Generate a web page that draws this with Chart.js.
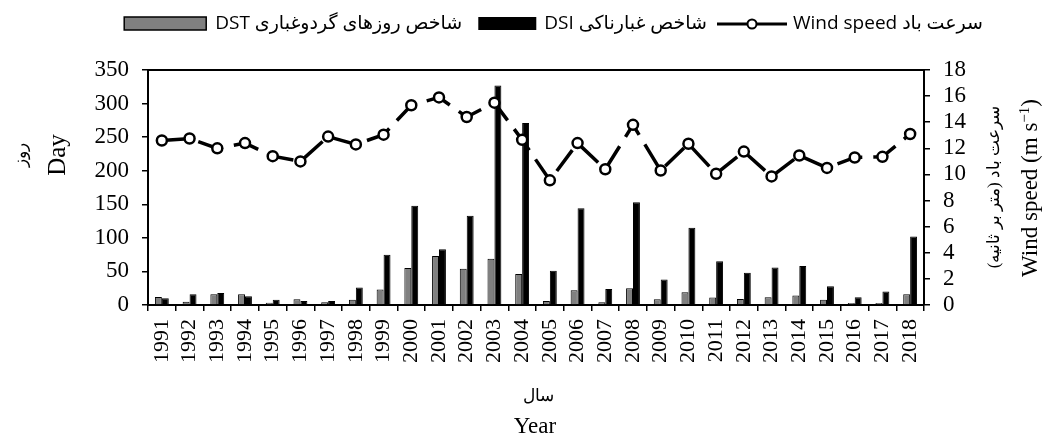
<!DOCTYPE html>
<html>
<head>
<meta charset="utf-8">
<script src="https://cdn.jsdelivr.net/npm/chart.js@4.4.1/dist/chart.umd.min.js"></script>
<style>
  body { margin: 0; background: #fff; }
  #wrap { width: 1043px; height: 439px; }
</style>
</head>
<body>
<div id="wrap"><canvas id="myChart" width="1043" height="439"></canvas></div>
<script>
// years on the x axis
const years = [1991, 1992, 1993, 1994, 1995, 1996, 1997, 1998, 1999, 2000,
    2001, 2002, 2003, 2004, 2005, 2006, 2007, 2008, 2009, 2010,
    2011, 2012, 2013, 2014, 2015, 2016, 2017, 2018];

// dust storm days index (gray bars), days
const dst = [12, 5, 16, 16, 3.5, 8.5, 4, 8, 23, 55,
    73, 54, 69, 46, 6, 22, 4, 25, 8.5, 19,
    11, 9, 11.5, 14, 8, 3, 3, 16];

// dustiness index (black bars)
const dsi = [10, 16, 18, 13, 8, 6, 6, 26, 75, 148,
    83, 133, 327, 271, 51, 144, 24, 153, 38, 115,
    65, 48, 56, 58, 28, 11.5, 20, 102];

// wind speed, m/s (right axis)
const wind = [12.6, 12.75, 12.0, 12.4, 11.4, 11.0, 12.9, 12.3, 13.05, 15.3,
    15.9, 14.4, 15.5, 12.65, 9.55, 12.4, 10.4, 13.8, 10.3, 12.35,
    10.05, 11.75, 9.85, 11.45, 10.5, 11.3, 11.35, 13.1];

const serif = '"Liberation Serif", "Times New Roman", serif';
const sans = '"Open Sans", "DejaVu Sans", sans-serif';

// titles, frame top and the legend are drawn here
const extras = {
    id: 'extras',
    afterDraw(chart) {
        const ctx = chart.ctx;
        const area = chart.chartArea;
        ctx.save();

        // top edge of the frame
        ctx.strokeStyle = '#000';
        ctx.lineWidth = 2;
        ctx.beginPath();
        ctx.moveTo(area.left, area.top);
        ctx.lineTo(area.right, area.top);
        ctx.stroke();

        ctx.fillStyle = '#000';
        ctx.textAlign = 'center';
        ctx.textBaseline = 'middle';

        const rotText = (txt, x, y, font, dir) => {
            ctx.save();
            ctx.translate(x, y);
            ctx.rotate(-Math.PI / 2);
            ctx.font = font;
            ctx.direction = dir || 'ltr';
            ctx.fillText(txt, 0, 0);
            ctx.restore();
        };

        // left titles
        rotText('روز', 22, 155, '17px ' + serif, 'rtl');
        rotText('Day', 58, 155, '25px ' + serif);

        // right titles
        rotText('سرعت باد (متر بر ثانیه)', 995, 187, '17px ' + serif, 'rtl');

        // Wind speed (m s^-1) with a superscript
        ctx.save();
        ctx.translate(1031, 188);
        ctx.rotate(-Math.PI / 2);
        ctx.textAlign = 'left';
        const big = '23px ' + serif;
        const small = '15px ' + serif;
        ctx.font = big;
        const p1 = 'Wind speed (m s';
        const p3 = ')';
        const w1 = ctx.measureText(p1).width;
        const w3 = ctx.measureText(p3).width;
        ctx.font = small;
        const p2 = '\u22121';
        const w2 = ctx.measureText(p2).width;
        let x0 = -(w1 + w2 + w3) / 2;
        ctx.font = big;
        ctx.fillText(p1, x0, 0);
        ctx.font = small;
        ctx.fillText(p2, x0 + w1, -6);
        ctx.font = big;
        ctx.fillText(p3, x0 + w1 + w2, 0);
        ctx.restore();

        // bottom titles
        ctx.font = '17px ' + serif;
        ctx.direction = 'rtl';
        ctx.fillText('سال', 538, 397);
        ctx.direction = 'ltr';
        ctx.font = '23px ' + serif;
        ctx.fillText('Year', 535, 427);

        // legend, laid out leftwards from the wind speed marker
        const ly = 24;
        ctx.font = '19px ' + sans;
        ctx.textAlign = 'left';
        const t1 = 'DST شاخص روزهای گردوغباری';
        const t2 = 'DSI شاخص غبارناکی';
        const t3 = 'Wind speed سرعت باد';
        const lineX = 717;
        const t2x = lineX - 10 - ctx.measureText(t2).width;
        const box2x = t2x - 8 - 58;
        const t1x = box2x - 16 - ctx.measureText(t1).width;
        const box1x = t1x - 9 - 82;

        ctx.lineWidth = 1.5;
        ctx.fillStyle = '#808080';
        ctx.fillRect(box1x, 17, 82, 13);
        ctx.strokeRect(box1x, 17, 82, 13);
        ctx.fillStyle = '#000';
        ctx.fillText(t1, t1x, ly);

        ctx.fillRect(box2x, 17, 58, 13);
        ctx.fillText(t2, t2x, ly);

        ctx.lineWidth = 3;
        ctx.beginPath();
        ctx.moveTo(lineX, ly);
        ctx.lineTo(lineX + 70, ly);
        ctx.stroke();
        ctx.beginPath();
        ctx.arc(lineX + 35, ly, 4.5, 0, Math.PI * 2);
        ctx.fillStyle = '#fff';
        ctx.fill();
        ctx.lineWidth = 2;
        ctx.stroke();
        ctx.fillStyle = '#000';
        ctx.fillText(t3, lineX + 76, ly);

        ctx.restore();
    }
};

const axisGrid = {
    drawOnChartArea: false,
    drawTicks: true,
    tickLength: 6,
    color: '#000',
    lineWidth: 1.5
};
const axisBorder = { display: true, color: '#000', width: 2 };

const ctx = document.getElementById('myChart');
const myChart = new Chart(ctx, {
    type: 'bar',
    data: {
        labels: years,
        datasets: [
            {
                type: 'line',
                label: 'Wind speed',
                data: wind,
                yAxisID: 'y1',
                borderColor: '#000',
                borderWidth: 3.5,
                borderDash: [26, 11],
                pointRadius: 5,
                pointBackgroundColor: '#fff',
                pointBorderColor: '#000',
                pointBorderWidth: 2.5,
                tension: 0,
                order: 0
            },
            {
                label: 'DST',
                data: dst,
                yAxisID: 'y',
                backgroundColor: '#808080',
                borderColor: '#000',
                borderWidth: 1,
                order: 1
            },
            {
                label: 'DSI',
                data: dsi,
                yAxisID: 'y',
                backgroundColor: '#000',
                borderColor: '#000',
                borderWidth: 1,
                order: 1
            }
        ]
    },
    options: {
        responsive: false,
        animation: false,
        datasets: {
            bar: { barPercentage: 1, categoryPercentage: 0.5 }
        },
        layout: { padding: { top: 70, left: 0, right: 0, bottom: 0 } },
        plugins: {
            legend: { display: false },
            tooltip: { enabled: false }
        },
        scales: {
            x: {
                grid: axisGrid,
                border: axisBorder,
                ticks: {
                    color: '#000',
                    font: { family: serif, size: 22 },
                    minRotation: 90,
                    maxRotation: 90,
                    padding: 8,
                    autoSkip: false
                },
                afterFit: (scale) => { scale.height = 134; }
            },
            y: {
                position: 'left',
                min: 0,
                max: 350,
                grid: axisGrid,
                border: axisBorder,
                ticks: {
                    stepSize: 50,
                    color: '#000',
                    font: { family: serif, size: 23 },
                    padding: 13,
                    autoSkip: false
                },
                afterFit: (scale) => { scale.width = 148; }
            },
            y1: {
                position: 'right',
                min: 0,
                max: 18,
                grid: axisGrid,
                border: axisBorder,
                ticks: {
                    stepSize: 2,
                    color: '#000',
                    font: { family: serif, size: 23 },
                    padding: 13,
                    autoSkip: false
                },
                afterFit: (scale) => { scale.width = 119; }
            }
        }
    },
    plugins: [extras]
});
</script>
</body>
</html>
